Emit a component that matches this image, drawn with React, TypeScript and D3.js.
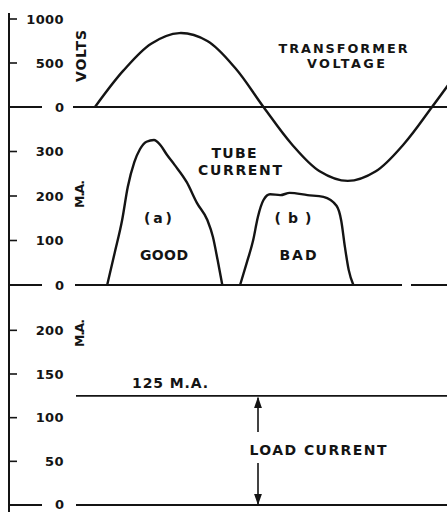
import React from 'react';
import * as d3 from 'd3';

// --- Data ---
const voltTicks = [1000, 500];
const tubeTicks = [300, 200, 100];
const loadTicks = [200, 150, 100, 50];

// transformer voltage, x in electrical degrees
const voltDeg = [0, 30, 60, 90, 120, 150, 180, 210, 240, 270, 300, 330, 360, 380];
const voltVals = [0, 410, 720, 840, 750, 440, 0, -420, -730, -840, -730, -420, 0, 290];

// tube current (a) good
const goodDeg = [13, 21, 29, 35, 42, 48, 55, 63, 70, 77, 85, 98, 109, 120, 126, 131, 136];
const goodMA = [0, 72, 146, 220, 276, 305, 322, 326, 314, 292, 270, 231, 184, 146, 108, 56, 0];

// tube current (b) bad
const badDeg = [155, 162, 169, 174, 180, 187, 198, 208, 227, 244, 258, 263, 267, 271, 276];
const badMA = [0, 49, 101, 153, 191, 204, 202, 207, 202, 198, 178, 145, 85, 34, 0];

const loadMA = 125;

const W = 447;
const H = 512;
const INK = '#141414';
const FONT = '"DejaVu Sans", sans-serif';

export default function App() {
  const x = d3.scaleLinear().domain([0, 360]).range([95, 432]);
  const yV = d3.scaleLinear().domain([0, 1000]).range([107, 19]);
  const yT = d3.scaleLinear().domain([0, 300]).range([285, 151.5]);
  const yL = d3.scaleLinear().domain([0, 150]).range([505, 374]);

  const axisX = 9;
  const labelX = 64;

  const voltLine = d3
    .line<number>()
    .x((_, i) => x(voltDeg[i]))
    .y((d) => yV(d))
    .curve(d3.curveCatmullRom);

  const tubeLine = (degs: number[]) =>
    d3
      .line<number>()
      .x((_, i) => x(degs[i]))
      .y((d) => yT(d))
      .curve(d3.curveMonotoneX);

  const txt = { fontFamily: FONT, fill: INK, fontSize: 13, fontWeight: 'bold' } as const;

  // zero line of a panel: stub on the axis, the "0" label, then the baseline
  const zeroRow = (y: number, segs: [number, number][], dy = '0.36em') => (
    <g>
      <line x1={axisX} x2={42} y1={y} y2={y} stroke={INK} strokeWidth={2.2} />
      <text x={labelX} y={y} dy={dy} textAnchor="end" {...txt}>0</text>
      {segs.map(([a, b], i) => (
        <line key={i} x1={a} x2={b} y1={y} y2={y} stroke={INK} strokeWidth={1.8} />
      ))}
    </g>
  );

  const tickRow = (ticks: number[], scale: d3.ScaleLinear<number, number>) =>
    ticks.map((t) => (
      <g key={t}>
        <line x1={axisX} x2={17} y1={scale(t)} y2={scale(t)} stroke={INK} strokeWidth={1.6} />
        <text x={labelX} y={scale(t)} dy="0.36em" textAnchor="end" letterSpacing={0.4} {...txt}>
          {t}
        </text>
      </g>
    ));

  const arrowX = 258;
  const loadY = yL(loadMA);
  const zeroL = yL(0);

  return (
    <svg
      width={W}
      height={H}
      style={{ position: 'absolute', left: 0, top: 0, display: 'block', background: '#fff' }}
    >
      <defs>
        <marker id="ah" viewBox="0 0 10 10" refX="9" refY="5" markerWidth="7" markerHeight="9" orient="auto">
          <path d="M0,1.5 L10,5 L0,8.5 Z" fill={INK} />
        </marker>
      </defs>
      <rect width={W} height={H} fill="#fff" />

      {/* left axis */}
      <line x1={axisX} x2={axisX} y1={13} y2={H} stroke={INK} strokeWidth={2} />

      {tickRow(voltTicks, yV)}
      {tickRow(tubeTicks, yT)}
      {tickRow(loadTicks, yL)}

      {zeroRow(yV(0), [[73, W]])}
      {zeroRow(yT(0), [[75, 402], [411, W]])}
      {zeroRow(yL(0), [[76, W]], '0.28em')}

      {/* unit labels */}
      <text transform={`translate(86,56) rotate(-90)`} textAnchor="middle" textLength={52} lengthAdjust="spacing" {...txt} fontSize={14}>
        VOLTS
      </text>
      <text transform={`translate(84,194) rotate(-90)`} textAnchor="middle" textLength={28} lengthAdjust="spacing" {...txt} fontSize={12.5}>
        M.A.
      </text>
      <text transform={`translate(84,333) rotate(-90)`} textAnchor="middle" textLength={28} lengthAdjust="spacing" {...txt} fontSize={12.5}>
        M.A.
      </text>

      {/* curves */}
      <path d={voltLine(voltVals) || ''} fill="none" stroke={INK} strokeWidth={2.4} />
      <path d={tubeLine(goodDeg)(goodMA) || ''} fill="none" stroke={INK} strokeWidth={2.4} />
      <path d={tubeLine(badDeg)(badMA) || ''} fill="none" stroke={INK} strokeWidth={2.4} />

      {/* load current */}
      <line x1={76} x2={W} y1={loadY} y2={loadY} stroke={INK} strokeWidth={1.8} />
      <line x1={arrowX} x2={arrowX} y1={432} y2={loadY + 2} stroke={INK} strokeWidth={1.6} markerEnd="url(#ah)" />
      <line x1={arrowX} x2={arrowX} y1={463} y2={zeroL - 1} stroke={INK} strokeWidth={1.6} markerEnd="url(#ah)" />

      {/* annotations */}
      <g {...txt} fontSize={14} textAnchor="middle">
        <text x={343} y={53} fontSize={12.8} textLength={129} lengthAdjust="spacing">TRANSFORMER</text>
        <text x={346} y={68} fontSize={12.8} textLength={78} lengthAdjust="spacing">VOLTAGE</text>
        <text x={234} y={158} textLength={45} lengthAdjust="spacing">TUBE</text>
        <text x={240} y={175} textLength={84} lengthAdjust="spacing">CURRENT</text>
        <text x={158} y={223} textLength={28} lengthAdjust="spacing">(a)</text>
        <text x={164} y={260} textLength={48} lengthAdjust="spacing">GOOD</text>
        <text x={293} y={223} textLength={37} lengthAdjust="spacing">(b)</text>
        <text x={298} y={260} textLength={37} lengthAdjust="spacing">BAD</text>
        <text x={170} y={388} textLength={76} lengthAdjust="spacing">125 M.A.</text>
        <text x={318} y={455} textLength={137} lengthAdjust="spacing">LOAD CURRENT</text>
      </g>
    </svg>
  );
}
